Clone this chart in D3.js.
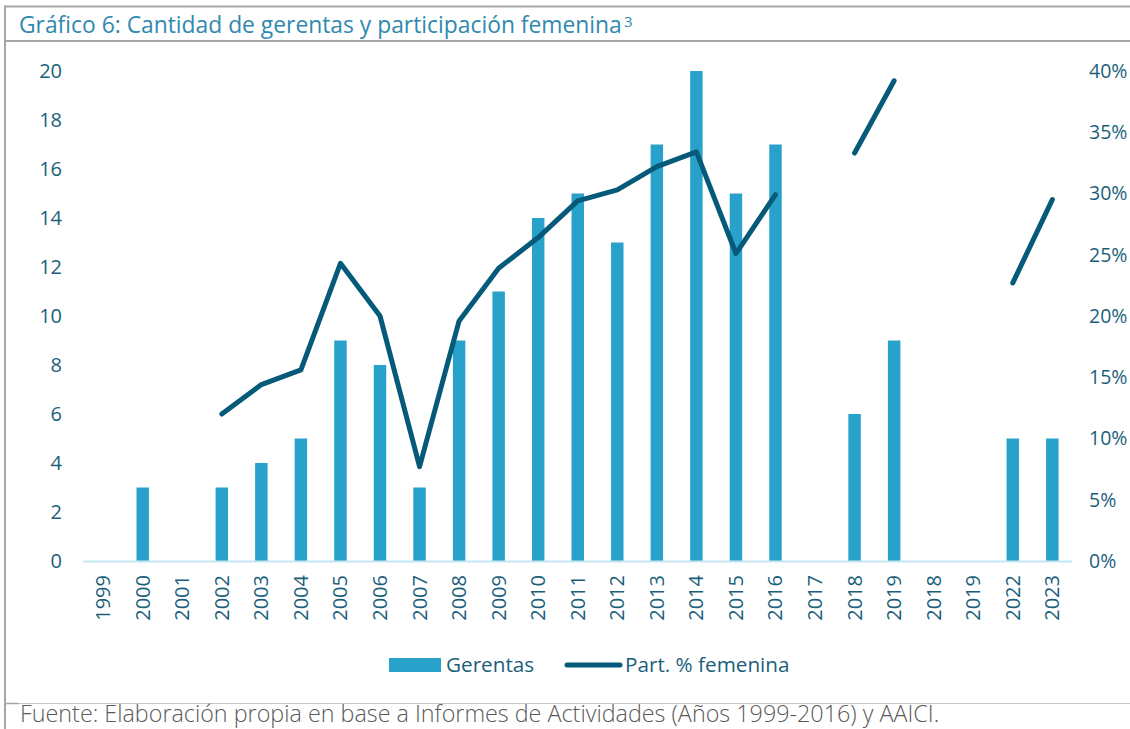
<!DOCTYPE html>
<html><head><meta charset="utf-8">
<script src="https://cdn.jsdelivr.net/npm/d3@7"></script>
<style>body{margin:0;background:#fff;} svg{display:block;}</style>
</head><body>
<svg id="chart" width="1130" height="729"></svg>
<script>
const categories = ["1999","2000","2001","2002","2003","2004","2005","2006","2007","2008","2009","2010","2011","2012","2013","2014","2015","2016","2017","2018","2019","2018","2019","2022","2023"];
const gerentas = [null,3,null,3,4,5,9,8,3,9,11,14,15,13,17,20,15,17,null,6,9,null,null,5,5];
const partFemenina = [null,null,null,12.0,14.4,15.6,24.3,20.0,7.7,19.6,23.9,26.4,29.4,30.3,32.2,33.4,25.1,29.9,null,33.3,39.2,null,null,22.7,29.5];
const leftTicks = [0,2,4,6,8,10,12,14,16,18,20];
const rightTicks = [0,5,10,15,20,25,30,35,40];

const title = "Gráfico 6: Cantidad de gerentas y participación femenina";
const footnote = "3";
const source = "Fuente: Elaboración propia en base a Informes de Actividades (Años 1999-2016) y AAICI.";
const legendLabels = ["Gerentas","Part. % femenina"];

const barColor = "#28a2ca", lineColor = "#065a79", textColor = "#1b5f7c", frameColor = "#a6a6a6";
const svg = d3.select("#chart");

function fitFont(sel, family, width, base) {
  sel.attr("font-family", family).attr("font-size", base);
  const w = sel.node().getComputedTextLength();
  sel.attr("font-size", base * width / w);
}

// frame
svg.append("line").attr("x1",5).attr("x2",1130).attr("y1",6.5).attr("y2",6.5).attr("stroke",frameColor).attr("stroke-width",2);
svg.append("line").attr("x1",5).attr("x2",1130).attr("y1",41).attr("y2",41).attr("stroke",frameColor).attr("stroke-width",2);
svg.append("line").attr("x1",5).attr("x2",5).attr("y1",5.5).attr("y2",729).attr("stroke",frameColor).attr("stroke-width",2);
svg.append("line").attr("x1",5).attr("x2",1130).attr("y1",703.5).attr("y2",703.5).attr("stroke","#c8c8c8").attr("stroke-width",1);
svg.append("line").attr("x1",5).attr("x2",19).attr("y1",703.5).attr("y2",703.5).attr("stroke",frameColor).attr("stroke-width",1.5);

// title
const t = svg.append("text").attr("x",19).attr("y",33).attr("fill","#3089ae").text(title);
fitFont(t, "'Open Sans', sans-serif", 603, 21);
svg.append("text").attr("x",624).attr("y",27).attr("fill","#3089ae").attr("font-family","'Open Sans', sans-serif").attr("font-size",15).text(footnote);

// source
const s = svg.append("text").attr("x",20).attr("y",722).attr("fill","#5a5a5a").attr("font-weight",300).text(source);
fitFont(s, "'Open Sans', sans-serif", 920, 18);

// scales
const x = d3.scaleBand().domain(d3.range(categories.length)).range([83.5,1072]).paddingInner(0.685).paddingOuter(0.34);
const yL = d3.scaleLinear().domain([0,20]).range([561,71]);
const yR = d3.scaleLinear().domain([0,40]).range([561,71]);

// bars
svg.append("g").selectAll("rect").data(gerentas.map((v,i)=>({v,i})).filter(d=>d.v!=null)).join("rect")
  .attr("x",d=>x(d.i)).attr("width",x.bandwidth())
  .attr("y",d=>yL(d.v)).attr("height",d=>yL(0)-yL(d.v)).attr("fill",barColor);

// baseline
svg.append("line").attr("x1",83).attr("x2",1072).attr("y1",561.5).attr("y2",561.5).attr("stroke","#c6e6f3").attr("stroke-width",2);

// line
const line = d3.line().defined(d=>d.v!=null).x(d=>x(d.i)+x.bandwidth()/2).y(d=>yR(d.v));
svg.append("path").datum(partFemenina.map((v,i)=>({v,i})))
  .attr("d",line).attr("fill","none").attr("stroke",lineColor).attr("stroke-width",5)
  .attr("stroke-linecap","round").attr("stroke-linejoin","round");

// axes
const font = "'Open Sans', sans-serif";
const fs = 20;
const gl = svg.append("g").attr("transform","translate(62,0)")
  .call(d3.axisLeft(yL).tickValues(leftTicks).tickSize(0).tickPadding(0));
gl.select(".domain").remove();
gl.selectAll("text").attr("fill",textColor).attr("font-family",font).attr("font-size",fs);

const gr = svg.append("g").attr("transform","translate(1089,0)")
  .call(d3.axisRight(yR).tickValues(rightTicks).tickFormat(d=>d+"%").tickSize(0).tickPadding(0));
gr.select(".domain").remove();
gr.selectAll("text").attr("fill",textColor).attr("font-family",font).attr("font-size",19.5);

const gx = svg.append("g").attr("transform","translate(0,575)")
  .call(d3.axisBottom(x).tickFormat(i=>categories[i]).tickSize(0).tickPadding(0));
gx.select(".domain").remove();
gx.selectAll("text").attr("fill",textColor).attr("font-family",font).attr("font-size",fs)
  .attr("transform","rotate(-90)").attr("text-anchor","end").attr("dy","0.35em").attr("x",0).attr("y",0);
gx.selectAll(".tick").attr("transform",i=>`translate(${x(i)+x.bandwidth()/2},0)`);

// legend
const lg = svg.append("g");
lg.append("rect").attr("x",389).attr("y",658).attr("width",52).attr("height",14).attr("fill",barColor);
lg.append("text").attr("x",446).attr("y",672).attr("fill",textColor).attr("font-family",font).attr("font-size",20.7).text(legendLabels[0]);
lg.append("line").attr("x1",567).attr("x2",620).attr("y1",665).attr("y2",665).attr("stroke",lineColor).attr("stroke-width",5).attr("stroke-linecap","round");
lg.append("text").attr("x",625).attr("y",672).attr("fill",textColor).attr("font-family",font).attr("font-size",20.7).text(legendLabels[1]);
</script>
</body></html>
